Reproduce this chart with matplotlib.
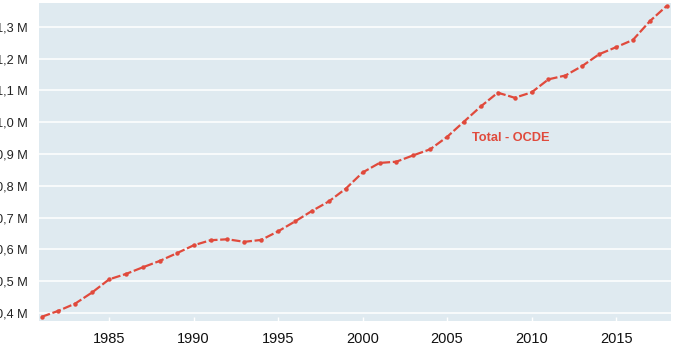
import matplotlib.pyplot as plt
from matplotlib.ticker import FuncFormatter

plt.rcParams['font.family'] = ['Liberation Sans', 'DejaVu Sans']

# données (millions)
years = list(range(1981, 2019))
total_ocde = [0.388, 0.407, 0.430, 0.465, 0.506, 0.523, 0.544, 0.564, 0.588, 0.613,
              0.629, 0.632, 0.624, 0.630, 0.657, 0.688, 0.721, 0.751, 0.791, 0.842,
              0.872, 0.876, 0.896, 0.915, 0.954, 1.002, 1.050, 1.093, 1.077, 1.094,
              1.135, 1.147, 1.177, 1.214, 1.236, 1.259, 1.318, 1.366]
series_label = "Total - OCDE"
x_ticks = [1985, 1990, 1995, 2000, 2005, 2010, 2015]
y_ticks = [0.4, 0.5, 0.6, 0.7, 0.8, 0.9, 1.0, 1.1, 1.2, 1.3]

red = '#e04a3c'

fig = plt.figure(figsize=(6.78, 3.5), dpi=100)
ax = fig.add_axes([39/678, 29/350, 632/678, 318/350])
ax.set_facecolor('#dfeaf0')
for s in ax.spines.values():
    s.set_visible(False)

ax.plot(years, total_ocde, color=red, lw=1.6, dashes=(4, 1.2),
        marker='o', markersize=3.2, markeredgewidth=0, zorder=3)

ax.text(2006.5, 0.951, series_label, color=red, fontsize=9.2,
        fontweight='bold', va='center', ha='left')

ax.set_xlim(1980.85, 2018.25)
ax.set_ylim(0.375, 1.375)
ax.set_xticks(x_ticks)
ax.set_yticks(y_ticks)
ax.yaxis.set_major_formatter(FuncFormatter(lambda v, p: f"{v:.1f} M".replace('.', ',')))

ax.grid(axis='y', color='white', lw=1.1)
ax.set_axisbelow(True)
ax.tick_params(axis='y', length=0, pad=8, labelsize=9.2, labelcolor='#222222')
ax.tick_params(axis='x', direction='in', length=3, width=1, color='white',
               pad=8, labelsize=10.5, labelcolor='#111111')

fig.savefig('out.png', dpi=100)
